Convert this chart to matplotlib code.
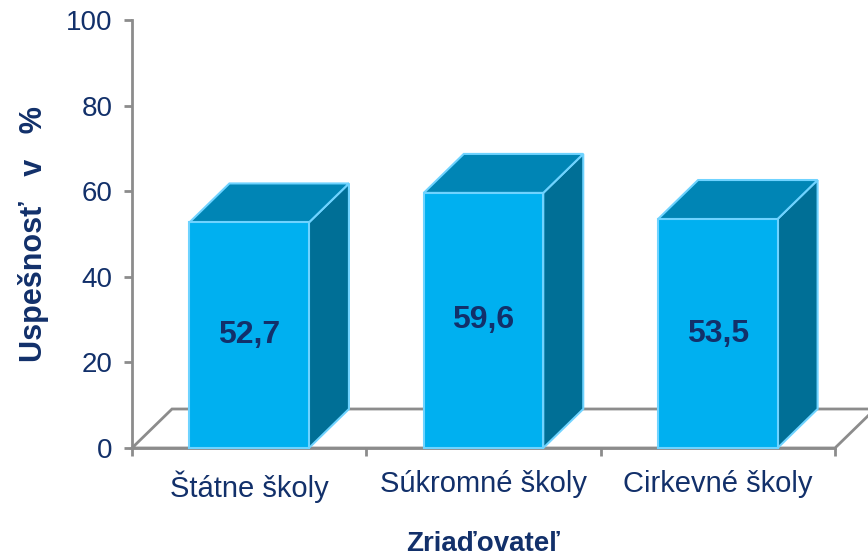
import matplotlib
matplotlib.use("Agg")
import matplotlib.pyplot as plt
from matplotlib.patches import Polygon

plt.rcParams['font.family'] = ['Liberation Sans', 'DejaVu Sans']

categories = ['Štátne školy', 'Súkromné školy', 'Cirkevné školy']
values = [52.7, 59.6, 53.5]
value_labels = ['52,7', '59,6', '53,5']
yticks = [0, 20, 40, 60, 80, 100]

navy = '#12306A'
front_col = '#00B0F0'
top_col = '#0085B5'
side_col = '#006F96'
edge_col = '#6FD3FF'
floor_col = '#8C8C8C'

fig = plt.figure(figsize=(8.68, 5.6), dpi=100)
ax = fig.add_axes([132 / 868, 112 / 560, 703 / 868, 428 / 560])
ax.set_xlim(0, 3)
ax.set_ylim(0, 100)

# depth offset of the pseudo-3D look (in data units)
dx = 40 / 234.3
dy = 39 / 4.28
bw = 0.51

# floor
floor = Polygon([(0, 0), (3, 0), (3 + dx, dy), (dx, dy)], closed=True,
                facecolor='white', edgecolor=floor_col, lw=2, clip_on=False, zorder=1)
ax.add_patch(floor)

for i, v in enumerate(values):
    x0 = i + 0.5 - bw / 2
    x1 = i + 0.5 + bw / 2
    side = Polygon([(x1, 0), (x1 + dx, dy), (x1 + dx, v + dy), (x1, v)], closed=True,
                   facecolor=side_col, edgecolor=edge_col, lw=1.5, clip_on=False, zorder=3)
    top = Polygon([(x0, v), (x1, v), (x1 + dx, v + dy), (x0 + dx, v + dy)], closed=True,
                  facecolor=top_col, edgecolor=edge_col, lw=1.5, clip_on=False, zorder=3)
    front = Polygon([(x0, 0), (x1, 0), (x1, v), (x0, v)], closed=True,
                    facecolor=front_col, edgecolor=edge_col, lw=1.5, clip_on=False, zorder=4)
    ax.add_patch(side)
    ax.add_patch(top)
    ax.add_patch(front)
    ax.text(i + 0.5, v / 2, value_labels[i], ha='center', va='center',
            fontsize=23, fontweight='bold', color=navy, zorder=5)

for s in ['top', 'right']:
    ax.spines[s].set_visible(False)
ax.spines['left'].set_color(floor_col)
ax.spines['left'].set_linewidth(2)
ax.spines['bottom'].set_color(floor_col)
ax.spines['bottom'].set_linewidth(2)

ax.set_yticks(yticks)
ax.set_yticklabels([str(t) for t in yticks])
ax.tick_params(axis='y', direction='out', length=6, width=2, color=floor_col,
               labelsize=20, labelcolor=navy, pad=8)

ax.set_xticks([0, 1, 2, 3])
ax.set_xticklabels([])
ax.set_xticks([0.5, 1.5, 2.5], minor=True)
ax.set_xticklabels(categories, minor=True)
ax.tick_params(axis='x', which='major', direction='out', length=6, width=2, color=floor_col)
ax.tick_params(axis='x', which='minor', length=0, labelsize=21, labelcolor=navy, pad=16)

ax.set_ylabel('Uspešnosť   v   %', fontsize=22, fontweight='bold', color=navy)
ax.set_xlabel('Zriaďovateľ', fontsize=20, fontweight='bold', color=navy)
ax.yaxis.set_label_coords(-0.118, 0.5)
ax.xaxis.set_label_coords(0.5, -0.195)

fig.savefig('out.png', dpi=100)
